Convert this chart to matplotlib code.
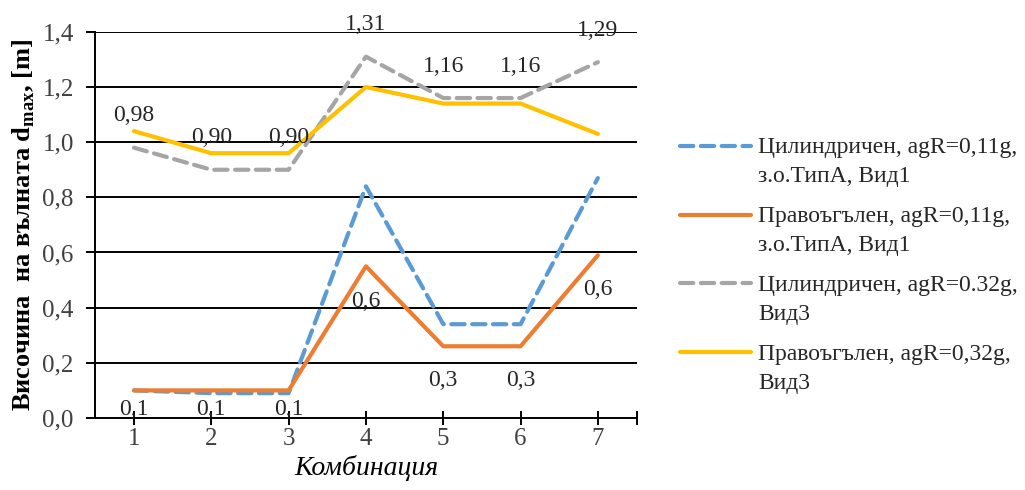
import numpy as np
import matplotlib
matplotlib.use('Agg')
import matplotlib.pyplot as plt
from matplotlib.legend_handler import HandlerLine2D

plt.rcParams['font.family'] = ['Liberation Serif', 'DejaVu Serif']
plt.rcParams['mathtext.fontset'] = 'custom'
plt.rcParams['mathtext.rm'] = 'Liberation Serif'
plt.rcParams['mathtext.bf'] = 'Liberation Serif:bold'

# data
combos = [1, 2, 3, 4, 5, 6, 7]
cyl_011 = [0.10, 0.09, 0.09, 0.84, 0.34, 0.34, 0.87]
rect_011 = [0.10, 0.10, 0.10, 0.55, 0.26, 0.26, 0.59]
cyl_032 = [0.98, 0.90, 0.90, 1.31, 1.16, 1.16, 1.29]
rect_032 = [1.04, 0.96, 0.96, 1.20, 1.14, 1.14, 1.03]
yticks = [0.0, 0.2, 0.4, 0.6, 0.8, 1.0, 1.2, 1.4]
labels = ['Цилиндричен, agR=0,11g,\nз.о.ТипА, Вид1',
          'Правоъгълен, agR=0,11g,\nз.о.ТипА, Вид1',
          'Цилиндричен, agR=0.32g,\nВид3',
          'Правоъгълен, agR=0,32g,\nВид3']


def comma(v, nd):
    return ('%.*f' % (nd, v)).replace('.', ',')


class TopLine(HandlerLine2D):
    # put the legend line next to the first text line, not the middle
    def create_artists(self, legend, orig_handle, xdescent, ydescent,
                       width, height, fontsize, trans):
        return super().create_artists(legend, orig_handle, xdescent,
                                      ydescent - 23, width, height,
                                      fontsize, trans)


fig = plt.figure(figsize=(10.25, 4.9), dpi=100)
ax = fig.add_axes([0.093, 0.147, 0.528, 0.788])

for y in yticks[1:]:
    ax.axhline(y, color='black', lw=1.4, zorder=0)

l1, = ax.plot(combos, cyl_011, color='#5B9BD5', lw=3, ls=(0, (3.2, 1.8)),
              dash_capstyle='round', label=labels[0])
l2, = ax.plot(combos, rect_011, color='#ED7D31', lw=3, solid_capstyle='round',
              label=labels[1])
l3, = ax.plot(combos, cyl_032, color='#A5A5A5', lw=3, ls=(0, (3.2, 1.8)),
              dash_capstyle='round', label=labels[2])
l4, = ax.plot(combos, rect_032, color='#FFC000', lw=3, solid_capstyle='round',
              label=labels[3])

# data labels
for x, v in zip(combos, cyl_032):
    ax.annotate(comma(v, 2), (x, v), xytext=(0, 23), textcoords='offset points',
                ha='center', va='center', fontsize=17, color='#262626')
for x, v in zip(combos, rect_011):
    dy = -14 if v < 0.2 else -25
    ax.annotate(comma(v, 1), (x, v), xytext=(0, dy), textcoords='offset points',
                ha='center', va='center', fontsize=17, color='#262626')

ax.set_xlim(0.5, 7.5)
ax.set_ylim(0, 1.4)
ax.set_yticks(yticks)
ax.set_yticklabels([comma(v, 1) for v in yticks])
ax.set_xticks(combos + [7.5])
ax.set_xticklabels([str(c) for c in combos] + [''])
ax.tick_params(axis='y', length=6.5, width=1.4, labelsize=18, pad=9,
               labelcolor='#404040')
ax.tick_params(axis='x', direction='inout', length=10, width=1.4, labelsize=18,
               pad=2, labelcolor='#404040')

for s in ['top', 'right']:
    ax.spines[s].set_visible(False)
ax.spines['left'].set_linewidth(1.4)
ax.spines['bottom'].set_linewidth(1.4)

ax.set_ylabel(r'Височина  на вълната d$_{\mathbf{max}}$, [m]', fontsize=19,
              fontweight='bold', labelpad=4)
ax.set_xlabel('Комбинация', fontsize=20, style='italic', labelpad=4)

leg = fig.legend(handles=[l1, l2, l3, l4], loc='upper left',
                 bbox_to_anchor=(0.643, 0.764), frameon=False, fontsize=17,
                 handlelength=3.0, handletextpad=0.3, labelspacing=0.8,
                 handler_map={matplotlib.lines.Line2D: TopLine()})
for t in leg.get_texts():
    t.set_linespacing(1.5)
    t.set_color('#262626')

fig.savefig('out.png', dpi=100)
